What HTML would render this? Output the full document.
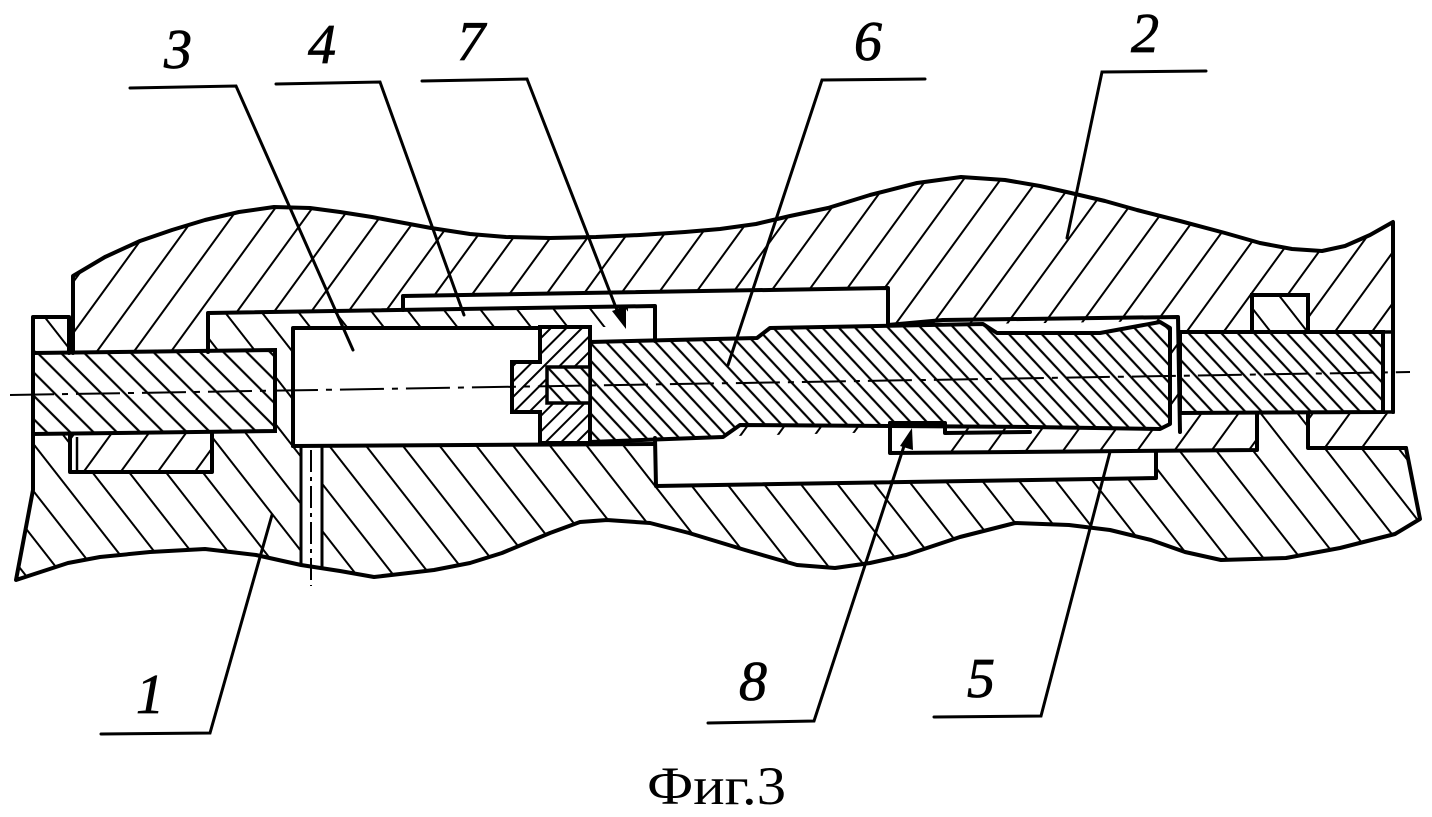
<!DOCTYPE html>
<html><head><meta charset="utf-8"><style>
html,body{margin:0;padding:0;background:#fff;}
svg{display:block;}
.lbl{font-family:"Liberation Serif",serif;font-style:italic;font-size:56px;fill:#000;stroke:#000;stroke-width:0.8px;}
</style></head><body>
<svg width="1432" height="817" viewBox="0 0 1432 817" xmlns="http://www.w3.org/2000/svg">
<defs>
<pattern id="h2" patternUnits="userSpaceOnUse" width="30" height="30" patternTransform="rotate(36)"><rect width="30" height="30" fill="#fff"/><line x1="15" y1="-2" x2="15" y2="32" stroke="#000" stroke-width="2"/></pattern>
<pattern id="h1" patternUnits="userSpaceOnUse" width="29" height="29" patternTransform="rotate(-38)"><rect width="29" height="29" fill="#fff"/><line x1="14" y1="-2" x2="14" y2="31" stroke="#000" stroke-width="2"/></pattern>
<pattern id="hs" patternUnits="userSpaceOnUse" width="16.5" height="20" patternTransform="rotate(-45)"><rect width="16.5" height="20" fill="#fff"/><line x1="8" y1="-2" x2="8" y2="22" stroke="#000" stroke-width="2.2"/></pattern>
<pattern id="hs2" patternUnits="userSpaceOnUse" width="12" height="20" patternTransform="rotate(-43)"><rect width="12" height="20" fill="#fff"/><line x1="6" y1="-2" x2="6" y2="22" stroke="#000" stroke-width="2.2"/></pattern>
<pattern id="hn" patternUnits="userSpaceOnUse" width="11" height="20" patternTransform="rotate(45)"><rect width="11" height="20" fill="#fff"/><line x1="5.5" y1="-2" x2="5.5" y2="22" stroke="#000" stroke-width="2"/></pattern>
</defs>

<!-- Body 2 (upper) -->
<polygon fill="url(#h2)" points="73,276 105,257 140,241 172,230 205,220 239,212 274,207 310,208 340,212 372,217 431,228 470,234 506,237 550,238 596,237 640,235 685,232 720,229 756,224 790,216 828,208 870,195 917,183 961,177 1005,180 1040,186 1071,193 1105,201 1137,210 1180,221 1225,233 1260,243 1292,249 1322,251 1345,246 1370,235 1393,222 1393,413 1397,413 1397,453 70,476 70,353 73,353"/>

<!-- Body 1 (lower) -->
<polygon fill="url(#h1)" points="33,317 69,317 69,434 70,434 70,472 212,472 212,433 208,433 208,313 655,306 655,440 890,440 890,453 1257,450 1257,413 1308,413 1308,448 1406,448 1420,519 1395,534 1340,548 1286,558 1221,560 1185,552 1151,540 1110,530 1069,525 1015,523 960,537 906,555 870,563 835,568 797,565 745,550 689,533 650,523 607,520 580,522 550,533 502,553 470,563 434,570 400,574 374,577 340,571 301,565 256,555 205,549 150,552 100,557 68,563 16,580 33,490"/>

<!-- right top tongue -->
<rect x="1252" y="295" width="56" height="37" fill="url(#h1)" stroke="#000" stroke-width="4"/>

<!-- white cavities -->
<rect x="293" y="328" width="247" height="118" fill="#fff"/>
<polygon fill="#fff" points="403,296 888,288 888,325 770,328 757,338 655,341 655,306 403,310"/>
<polygon fill="#fff" points="628,306 655,305 655,341 590,342 590,327 628,327"/>
<polygon fill="#fff" points="655,438 890,432 890,423 945,423 945,453 1156,452 1156,478 656,486"/>
<polygon fill="#fff" points="983,324 1163,321 1163,325 1100,333 997,333"/>
<rect x="301" y="446" width="21" height="121" fill="#fff"/>
<rect x="1383" y="332" width="10" height="80" fill="#fff" stroke="#000" stroke-width="3.5"/>

<!-- shafts -->
<polygon fill="url(#hs)" stroke="#000" stroke-width="4" points="33,353 275,350 275,431 33,434"/>
<polygon fill="url(#hs2)" stroke="#000" stroke-width="4" stroke-linejoin="round" points="590,342 757,338 770,328 983,324 997,333 1100,333 1160,322 1170,328 1170,424 1160,429 1030,427 740,425 723,437 590,442"/>
<polygon fill="url(#hs2)" stroke="#000" stroke-width="4" points="1180,332 1383,332 1383,412 1180,413"/>
<!-- nut -->
<polygon fill="url(#hn)" stroke="#000" stroke-width="4" points="540,327 590,327 590,443 540,443 540,412 512,412 512,362 540,362"/>
<rect x="547" y="367" width="43" height="36" fill="url(#hs2)" stroke="#000" stroke-width="3.5"/>

<!-- outlines -->
<g fill="none" stroke="#000" stroke-width="4" stroke-linejoin="round" stroke-linecap="round">
<polyline points="73,353 73,276 105,257 140,241 172,230 205,220 239,212 274,207 310,208 340,212 372,217 431,228 470,234 506,237 550,238 596,237 640,235 685,232 720,229 756,224 790,216 828,208 870,195 917,183 961,177 1005,180 1040,186 1071,193 1105,201 1137,210 1180,221 1225,233 1260,243 1292,249 1322,251 1345,246 1370,235 1393,222 1393,332"/>
<polyline points="1406,448 1420,519 1395,534 1340,548 1286,558 1221,560 1185,552 1151,540 1110,530 1069,525 1015,523 960,537 906,555 870,563 835,568 797,565 745,550 689,533 650,523 607,520 580,522 550,533 502,553 470,563 434,570 400,574 374,577 340,571 301,565 256,555 205,549 150,552 100,557 68,563 16,580 33,490 33,317 69,317 69,353"/>
<polyline points="70,434 70,472 212,472 212,433"/>
<polyline points="208,352 208,313 655,306 655,341"/>
<polyline points="403,310 403,296 888,288 888,325"/>
<polyline points="293,446 293,328 540,328"/>
<polyline points="293,446 655,444"/>
<polyline points="655,438 656,486 1156,478 1156,452"/>
<polyline points="890,423 890,453 1257,450 1257,413"/>
<polyline points="890,423 945,423 945,433 1030,432"/>
<polyline points="943,320 1178,317 1180,432"/>
<polyline points="1308,413 1308,448 1406,448"/>
<polyline points="888,325 943,320"/>
<polyline points="1393,412 1393,332" />
</g>
<line x1="77" y1="437" x2="77" y2="470" stroke="#000" stroke-width="2.5"/>
<line x1="301" y1="446" x2="301" y2="566" stroke="#000" stroke-width="3"/>
<line x1="322" y1="446" x2="322" y2="567" stroke="#000" stroke-width="3"/>

<!-- centre lines -->
<line x1="10" y1="395" x2="1410" y2="372" stroke="#000" stroke-width="2" stroke-dasharray="44 8 6 8"/>
<line x1="311" y1="450" x2="311" y2="586" stroke="#000" stroke-width="2" stroke-dasharray="22 5 4 5"/>

<!-- arrowheads -->
<polygon points="626,329 612,311 626,306" fill="#000"/>
<polygon points="912,428 900,446 913,450" fill="#000"/>

<!-- leaders -->
<g stroke="#000" stroke-width="3" fill="none" stroke-linecap="round">
<polyline points="130,88 236,86 353,350"/>
<polyline points="276,84 380,82 464,315"/>
<polyline points="422,81 527,79 620,318"/>
<polyline points="925,79 822,80 728,365"/>
<polyline points="1206,71 1102,72 1067,238"/>
<polyline points="101,734 210,733 272,515"/>
<polyline points="708,723 814,721 906,440"/>
<polyline points="934,717 1041,716 1110,452"/>
</g>

<!-- labels -->
<text class="lbl" x="178" y="68" text-anchor="middle">3</text>
<text class="lbl" x="322" y="63" text-anchor="middle">4</text>
<text class="lbl" x="471" y="60" text-anchor="middle">7</text>
<text class="lbl" x="868" y="60" text-anchor="middle">6</text>
<text class="lbl" x="1145" y="52" text-anchor="middle">2</text>
<text class="lbl" x="150" y="713" text-anchor="middle">1</text>
<text class="lbl" x="753" y="700" text-anchor="middle">8</text>
<text class="lbl" x="981" y="697" text-anchor="middle">5</text>
<text x="647" y="804" font-family="Liberation Serif, serif" font-size="54" textLength="139" lengthAdjust="spacingAndGlyphs">Фиг.3</text>
</svg>
</body></html>
